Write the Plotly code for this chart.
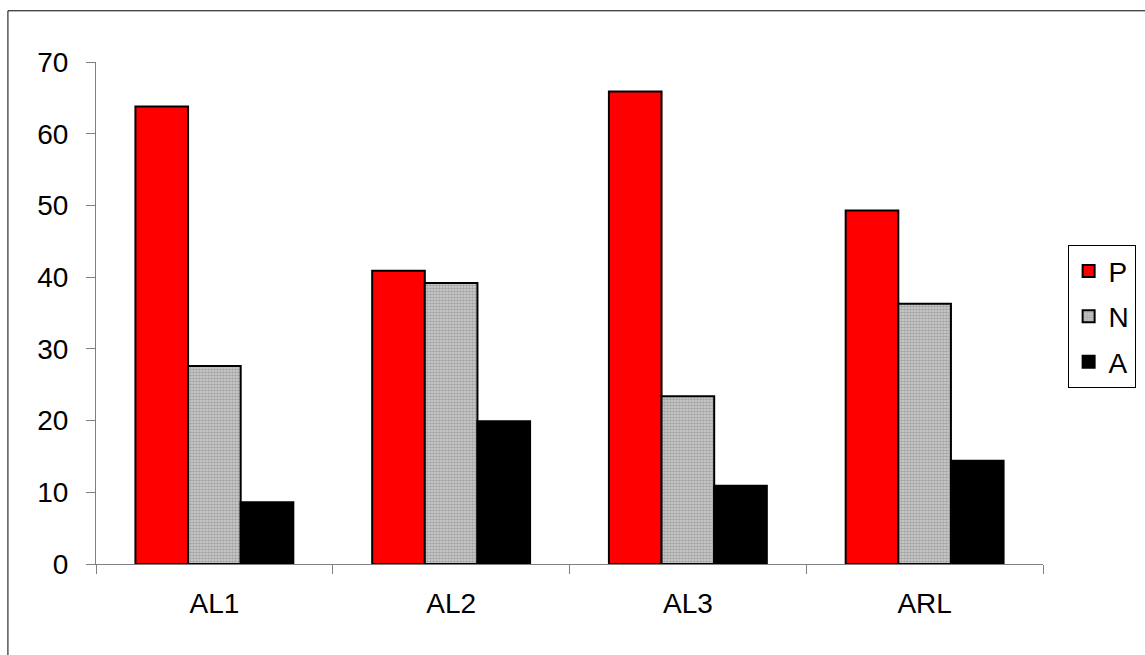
import plotly.graph_objects as go

categories = ["AL1", "AL2", "AL3", "ARL"]
p_values = [63.8, 40.9, 65.9, 49.3]
n_values = [27.6, 39.2, 23.4, 36.3]
a_values = [8.6, 19.9, 10.9, 14.4]

FONT = "Liberation Sans, Arial, sans-serif"
outline = dict(color="#000000", width=2)

fig = go.Figure()
fig.add_trace(go.Bar(name="P", x=categories, y=p_values, legendgroup="p",
                     marker=dict(color="#ff0000", line=outline)))
fig.add_trace(go.Bar(name="N", x=categories, y=n_values, legendgroup="n",
                     marker=dict(color="#d0d0d0", line=outline,
                                 pattern=dict(shape=".", size=3, solidity=0.6,
                                              fgcolor="#767676", bgcolor="#d2d2d2"))))
fig.add_trace(go.Bar(name="A", x=categories, y=a_values, legendgroup="a",
                     marker=dict(color="#000000", line=outline)))

# outer chart frame
fig.add_shape(type="rect", xref="paper", yref="paper",
              x0=-0.093, x1=1.2, y0=-0.3, y1=1.102,
              line=dict(color="#000000", width=1), layer="below")

fig.update_layout(
    width=1145, height=655,
    margin=dict(l=96, r=102, t=61.5, b=91, autoexpand=False),
    paper_bgcolor="white", plot_bgcolor="white",
    barmode="group", bargap=0.333, bargroupgap=0,
    font=dict(family=FONT, size=28, color="#000000"),
    showlegend=True,
    legend=dict(x=1.026, xanchor="left", y=0.635, yanchor="top",
                bordercolor="#000000", borderwidth=1,
                font=dict(family=FONT, size=28),
                traceorder="grouped", tracegroupgap=6,
                itemwidth=30),
    xaxis=dict(showline=True, linecolor="#808080", linewidth=1,
               ticks="outside", ticklen=9, tickcolor="#808080",
               tickson="boundaries", showgrid=False, zeroline=False,
               ticklabelstandoff=14, fixedrange=True),
    yaxis=dict(range=[0, 70], dtick=10, showline=True, linecolor="#808080",
               linewidth=1, ticks="outside", ticklen=9, tickcolor="#808080",
               showgrid=False, zeroline=False, ticklabelstandoff=12,
               fixedrange=True),
)

fig.write_html("out.html")
